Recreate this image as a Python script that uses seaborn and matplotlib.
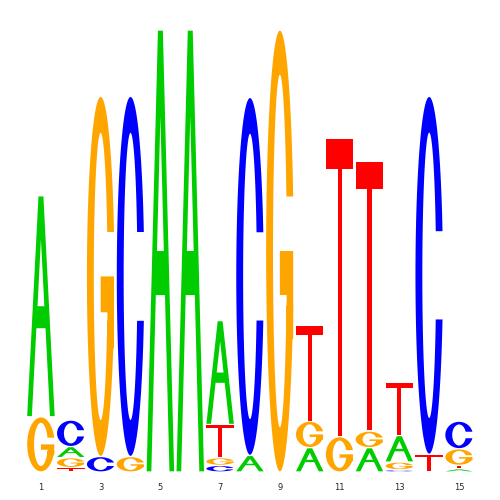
import numpy as np
import pandas as pd
import seaborn as sns
import matplotlib
matplotlib.use("Agg")
import matplotlib.pyplot as plt
from matplotlib.patches import PathPatch
from matplotlib.path import Path

# Letter stacks per position, bottom to top (information content in bits)
positions = list(range(1, 16))
stack_letters = [
    ["G", "A"],
    ["T", "G", "A", "C"],
    ["C", "G"],
    ["G", "C"],
    ["A"],
    ["A"],
    ["C", "G", "T", "A"],
    ["A", "C"],
    ["G"],
    ["A", "G", "T"],
    ["G", "T"],
    ["A", "G", "T"],
    ["C", "G", "A", "T"],
    ["T", "C"],
    ["A", "T", "G", "C"],
]
stack_heights = [
    [0.25, 1.00],
    [0.02, 0.045, 0.05, 0.12],
    [0.07, 1.63],
    [0.07, 1.63],
    [2.0],
    [2.0],
    [0.03, 0.035, 0.15, 0.47],
    [0.075, 1.62],
    [2.0],
    [0.11, 0.12, 0.435],
    [0.16, 1.35],
    [0.11, 0.075, 1.22],
    [0.01, 0.035, 0.12, 0.24],
    [0.08, 1.62],
    [0.015, 0.015, 0.075, 0.125],
]
tick_labels = ["1", "", "3", "", "5", "", "7", "", "9", "", "11", "", "13", "", "15"]

colors = {"A": "#00CC00", "C": "#0000FF", "G": "#FFA500", "T": "#FF0000"}

rows = []
for p, lets, hs in zip(positions, stack_letters, stack_heights):
    base = 0.0
    for l, h in zip(lets, hs):
        rows.append({"pos": p, "letter": l, "bottom": base, "height": h})
        base += h
df = pd.DataFrame(rows)


def signed_area(xy):
    x, y = xy[:, 0], xy[:, 1]
    return 0.5 * np.sum(x * np.roll(y, -1) - np.roll(x, -1) * y)


def orient(xy, ccw=True):
    xy = np.asarray(xy, float)
    if (signed_area(xy) > 0) != ccw:
        xy = xy[::-1]
    return xy


def c_outline(theta=0.25, rx=0.25, ry=0.40):
    a = np.linspace(np.pi / 2 + theta, 2.5 * np.pi - theta, 240)
    outer = np.column_stack([0.5 + 0.5 * np.sin(a), 0.5 + 0.5 * np.cos(a)])
    s = 0.5 * np.sin(theta)
    b1 = np.arccos(-s / ry)
    b2 = 2 * np.pi + np.arccos(s / ry)
    b = np.linspace(b2, b1, 240)
    inner = np.column_stack([0.5 + rx * np.sin(b), 0.5 + ry * np.cos(b)])
    return np.vstack([outer, inner])


def glyph(letter):
    """Unit-box polygons: list of (contour, is_hole)."""
    if letter == "T":
        return [(np.array([[0, 1], [1, 1], [1, 0.9], [0.575, 0.9], [0.575, 0],
                           [0.425, 0], [0.425, 0.9], [0, 0.9]]), False)]
    if letter == "A":
        w = 0.17
        outer = np.array([[0, 0], [0.41, 1], [0.59, 1], [1, 0], [1 - w, 0],
                          [1 - w - 0.41 * 0.4, 0.4], [w + 0.41 * 0.4, 0.4], [w, 0]])
        yb = 0.5
        xl = w + 0.41 * yb
        yap = (0.5 - w) / 0.41
        inner = np.array([[xl, yb], [0.5, yap], [1 - xl, yb]])
        return [(outer, False), (inner, True)]
    if letter == "C":
        return [(c_outline(), False)]
    if letter == "G":
        r1 = 0.985
        bar = np.array([[r1, 0.5], [0.5, 0.5], [0.5, 0.4], [r1 - 0.24, 0.4],
                        [r1 - 0.24, 0.3], [r1, 0.3]])
        return [(c_outline(), False), (bar, False)]


def letter_path(letter, x0, y0, w, h):
    verts, codes = [], []
    for xy, hole in glyph(letter):
        xy = orient(xy, ccw=not hole)
        pts = np.column_stack([x0 + w * xy[:, 0], y0 + h * xy[:, 1]])
        verts.extend(pts.tolist())
        verts.append(pts[0].tolist())
        codes.extend([Path.MOVETO] + [Path.LINETO] * (len(pts) - 1) + [Path.CLOSEPOLY])
    return Path(np.array(verts), codes)


sns.set_style("white")
fig = plt.figure(figsize=(5, 5), dpi=100)
ax = fig.add_axes([0.052, 0.056, 0.896, 0.884])

width = 0.92
for _, r in df.iterrows():
    pad = 0.003
    h = max(r["height"] - 2 * pad, 0.002)
    path = letter_path(r["letter"], r["pos"] - width / 2, r["bottom"] + pad, width, h)
    ax.add_patch(PathPatch(path, facecolor=colors[r["letter"]], edgecolor="none"))

ax.set_xlim(0.5, 15.5)
ax.set_ylim(0, 2)
ax.set_xticks(positions)
ax.set_xticklabels(tick_labels, fontsize=6, family="DejaVu Sans")
ax.tick_params(axis="x", length=0, pad=8)
ax.set_yticks([])
sns.despine(ax=ax, left=True, bottom=True)
fig.savefig("out.png", dpi=100)
